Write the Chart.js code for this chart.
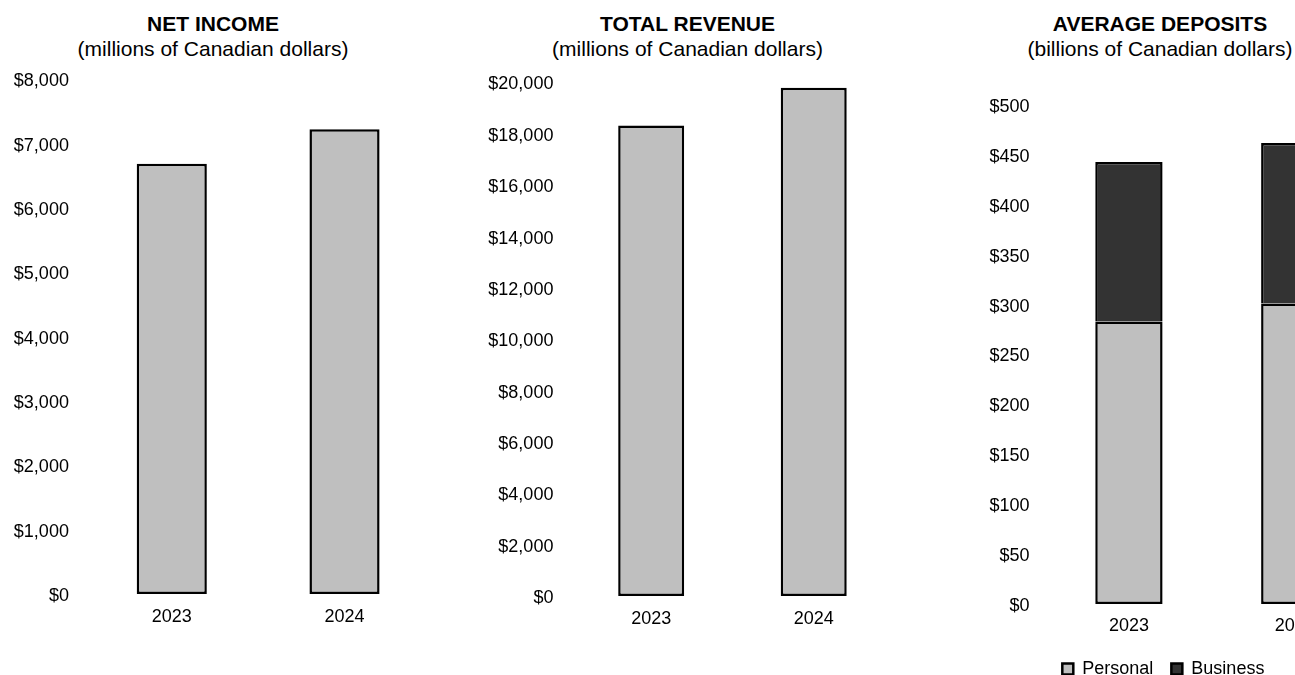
<head>
  <script src="https://cdn.jsdelivr.net/npm/chart.js"></script>
  <style>
    body { margin: 0; width: 1295px; height: 675px; overflow: hidden; background: #fff; position: relative; }
    canvas { position: absolute; top: 0; }
    .title { position: absolute; top: 10.5px; width: 440px; text-align: center; font-family: "Liberation Sans", Arial, sans-serif; font-size: 21px; line-height: 25px; color: #000; white-space: nowrap; }
    .title b { display: block; }
  </style>
</head>

<div class="title" style="left: -7px"><b>NET INCOME</b>(millions of Canadian dollars)</div>
<div class="title" style="left: 467.5px"><b>TOTAL REVENUE</b>(millions of Canadian dollars)</div>
<div class="title" style="left: 940px"><b>AVERAGE DEPOSITS</b>(billions of Canadian dollars)</div>

<canvas id="netincome" width="440" height="675" style="left: 0px"></canvas>
<canvas id="revenue" width="480" height="675" style="left: 430px"></canvas>
<canvas id="deposits" width="610" height="675" style="left: 860px"></canvas>

<script>
// values
const years = ['2023', '2024']
const netIncome = [6690, 7225]
const totalRevenue = [18330, 19800]
const depositsPersonal = [283, 301]
const depositsBusiness = [160, 161]

Chart.defaults.font.family = '"Liberation Sans", Arial, sans-serif'
Chart.defaults.font.size = 18
Chart.defaults.color = '#000'

const money = v => '$' + v.toLocaleString('en-US')

// one panel, geometry passed in so the three line up with the picture
const makeChart = (id, datasets, g) => {
  return new Chart(document.getElementById(id), {
    type: 'bar',
    data: { labels: years, datasets: datasets },
    options: {
      responsive: false,
      animation: false,
      layout: { padding: { top: g.top, bottom: g.bottom, left: g.padLeft || 0, right: g.right } },
      plugins: {
        legend: g.legend ? {
          position: 'bottom',
          labels: { boxWidth: 11, boxHeight: 11, padding: 18, color: '#000' }
        } : { display: false },
        tooltip: { enabled: false }
      },
      scales: {
        x: {
          stacked: true,
          grid: { display: false, drawTicks: false },
          border: { display: false },
          ticks: { padding: g.xpad },
          afterFit: s => { s.height = g.xh }
        },
        y: {
          stacked: true,
          min: 0,
          max: g.max,
          grid: { display: false, drawTicks: false },
          border: { display: false },
          ticks: { stepSize: g.step, padding: 16.5, labelOffset: 2, callback: money },
          afterFit: s => { s.width = g.left }
        }
      }
    }
  })
}

const bar = (label, data, color, skipped) => ({
  label: label,
  data: data,
  backgroundColor: color,
  borderColor: '#000',
  borderWidth: 2.5,
  borderSkipped: skipped,
  barPercentage: 0.406,
  categoryPercentage: 1
})

makeChart('netincome', [bar('Net income', netIncome, '#bfbfbf', false)],
  { top: 79.5, bottom: 41, right: 9.1, left: 85.4, xh: 40, xpad: 12.5, max: 8000, step: 1000 })

makeChart('revenue', [bar('Total revenue', totalRevenue, '#bfbfbf', false)],
  { top: 82.5, bottom: 39, right: 15, left: 139.9, xh: 40, xpad: 12.5, max: 20000, step: 2000 })

// legend is centred between the left padding and the plot's right edge,
// so part of the left gap goes to padding to move it under the title
makeChart('deposits', [
    bar('Personal', depositsPersonal, '#bfbfbf', false),
    bar('Business', depositsBusiness, '#333333', 'start')
  ],
  { top: 105, bottom: -13, right: 92.3, padLeft: 89, left: 97, xh: 38, xpad: 11, max: 500, step: 50, legend: true })
</script>
